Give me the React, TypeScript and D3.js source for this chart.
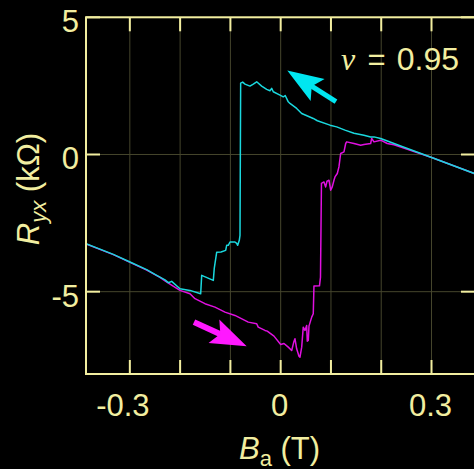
import React from "react";
import * as d3 from "d3";

// ---- data ----
const B_TICKS = [-0.3, -0.2, -0.1, 0, 0.1, 0.2, 0.3];
const B_LABELS = ["-0.3", "0", "0.3"];
const R_TICKS = [5, 0, -5];
const R_LABELS = ["5", "0", "-5"];
const NU_LABEL = "0.95";

// cyan: sweep down (B decreasing); listed by increasing B
const cyanB = [-0.3872, -0.3329, -0.2997, -0.2665, -0.2466, -0.2301, -0.2235, -0.2168, -0.2003, -0.1804, -0.1591, -0.1571, -0.134, -0.1321, -0.1273, -0.1187, -0.1094, -0.1074, -0.1042, -0.1008, -0.0909, -0.0875, -0.0855, -0.0823, -0.0809, -0.0796, -0.0756, -0.071, -0.0611, -0.0545, -0.0477, -0.0378, -0.0278, -0.0213, -0.0179, -0.0147, -0.0014, 0.0052, 0.009, 0.0151, 0.0185, 0.0318, 0.0418, 0.0648, 0.073, 0.0981, 0.1114, 0.1279, 0.1458, 0.1656, 0.179, 0.1856, 0.1989, 0.2387, 0.3003, 0.3864];
const cyanR = [-3.248, -3.639, -3.92, -4.197, -4.405, -4.569, -4.672, -4.624, -4.891, -4.953, -5.073, -4.405, -4.588, -4.15, -3.566, -3.555, -3.493, -3.31, -3.31, -3.19, -3.19, -3.237, -3.31, -3.128, -2.945, 2.602, 2.639, 2.566, 2.493, 2.566, 2.65, 2.493, 2.372, 2.321, 2.409, 2.285, 2.164, 2.102, 2.15, 1.92, 1.861, 1.679, 1.496, 1.314, 1.23, 1.069, 1.007, 0.887, 0.777, 0.7, 0.64, 0.642, 0.584, 0.31, -0.109, -0.701];

// magenta: sweep up (B increasing)
const magB = [-0.3872, -0.3329, -0.2997, -0.2665, -0.2401, -0.2301, -0.2162, -0.2003, -0.1804, -0.1704, -0.1506, -0.1307, -0.1108, -0.0909, -0.0644, -0.0477, -0.0446, -0.0312, -0.0267, -0.0133, 0.0, 0.0066, 0.0151, 0.0219, 0.0265, 0.0284, 0.0318, 0.0364, 0.0384, 0.0418, 0.0449, 0.0483, 0.0517, 0.0529, 0.0549, 0.0563, 0.0617, 0.0648, 0.0662, 0.0772, 0.0792, 0.0811, 0.0827, 0.0861, 0.0895, 0.0921, 0.0961, 0.0994, 0.1026, 0.106, 0.108, 0.1126, 0.1159, 0.1193, 0.1259, 0.1293, 0.1313, 0.1458, 0.1591, 0.1657, 0.179, 0.181, 0.1856, 0.1989, 0.212, 0.2253, 0.2387, 0.3003, 0.3864];
const magR = [-3.259, -3.65, -3.931, -4.215, -4.478, -4.606, -4.77, -4.953, -5.073, -5.255, -5.438, -5.562, -5.745, -5.865, -6.109, -6.168, -6.292, -6.412, -6.438, -6.62, -6.923, -6.887, -7.022, -7.142, -6.803, -6.715, -7.08, -7.35, -7.387, -7.022, -6.292, -6.412, -6.23, -6.803, -6.777, -6.255, -5.927, -5.803, -4.796, -4.788, -4.467, -1.047, -1.036, -1.0, -1.182, -0.974, -0.938, -1.303, -1.182, -0.938, -0.818, -0.693, -0.453, 0.036, 0.095, 0.401, 0.46, 0.401, 0.339, 0.365, 0.401, 0.584, 0.46, 0.522, 0.401, 0.358, 0.274, -0.109, -0.701];

// arrows (data units): [tailB, tailR, tipB, tipR]
const cyanArrow = [0.110, 1.927, 0.0131, 3.058];
const magArrow = [-0.1724, -6.109, -0.0676, -6.985];

// ---- style ----
const W = 474;
const H = 469;
const YEL = "#f2eea0";
const GRID = "#45452c";
const CYAN = "#1ad8de";
const MAG = "#e010e0";
const CYAN_AR = "#00e6f0";
const MAG_AR = "#ff18ff";
const FONT = "'Liberation Sans', Arial, sans-serif";
const FS = 31;

const L = 86, R = 475, T = 17.3, Bt = 374;

function arrowPath(x0: number, y0: number, x1: number, y1: number, headLen: number, halfW: number, notch: number) {
  const dx = x1 - x0, dy = y1 - y0;
  const len = Math.hypot(dx, dy);
  const ux = dx / len, uy = dy / len;
  const nx = -uy, ny = ux;
  const bx = x1 - ux * headLen, by = y1 - uy * headLen;
  const c1 = [bx + nx * halfW, by + ny * halfW];
  const c2 = [bx - nx * halfW, by - ny * halfW];
  const nt = [x1 - ux * notch, y1 - uy * notch];
  return `M${x1},${y1}L${c1[0]},${c1[1]}L${nt[0]},${nt[1]}L${c2[0]},${c2[1]}Z`;
}

export default function App() {
  const x = d3.scaleLinear().domain([-0.3872, 0.3865]).range([L, R]);
  const y = d3.scaleLinear().domain([-8, 5]).range([Bt, T]);

  const line = d3
    .line<[number, number]>()
    .x((d) => x(d[0]))
    .y((d) => y(d[1]));

  const cyanPts: [number, number][] = cyanB.map((b, i) => [b, cyanR[i]]);
  const magPts: [number, number][] = magB.map((b, i) => [b, magR[i]]);

  const arrow = (a: number[], color: string, shaftW: number) => {
    const x0 = x(a[0]), y0 = y(a[1]), x1 = x(a[2]), y1 = y(a[3]);
    const len = Math.hypot(x1 - x0, y1 - y0);
    const ux = (x1 - x0) / len, uy = (y1 - y0) / len;
    const notch = 29;
    return (
      <g>
        <line x1={x0} y1={y0} x2={x1 - ux * (notch - 2)} y2={y1 - uy * (notch - 2)} stroke={color} strokeWidth={shaftW} />
        <path d={arrowPath(x0, y0, x1, y1, 36, 13, notch)} fill={color} />
      </g>
    );
  };

  return (
    <svg width={W} height={H} style={{ position: "absolute", left: 0, top: 0, display: "block", background: "#000" }}>
      <rect x={0} y={0} width={W} height={H} fill="#000" />
      <defs>
        <clipPath id="plot">
          <rect x={L} y={T} width={R - L} height={Bt - T} />
        </clipPath>
      </defs>
      {/* grid */}
      {B_TICKS.map((b) => (
        <line key={"gx" + b} x1={x(b)} x2={x(b)} y1={T} y2={Bt} stroke={GRID} strokeWidth={1} />
      ))}
      {R_TICKS.map((r) => (
        <line key={"gy" + r} x1={L} x2={R} y1={y(r)} y2={y(r)} stroke={GRID} strokeWidth={1} />
      ))}
      {/* data */}
      <g clipPath="url(#plot)">
        <path d={line(magPts) || ""} fill="none" stroke={MAG} strokeWidth={1.5} strokeLinejoin="round" />
        <path d={line(cyanPts) || ""} fill="none" stroke={CYAN} strokeWidth={1.5} strokeLinejoin="round" />
      </g>
      {/* arrows */}
      {arrow(cyanArrow, CYAN_AR, 5)}
      {arrow(magArrow, MAG_AR, 6)}
      {/* frame */}
      <rect x={L} y={T} width={R - L} height={Bt - T} fill="none" stroke={YEL} strokeWidth={2} />
      {/* ticks */}
      {B_TICKS.map((b) => (
        <g key={"tx" + b}>
          <line x1={x(b)} x2={x(b)} y1={Bt} y2={Bt - 14} stroke={YEL} strokeWidth={2} />
          <line x1={x(b)} x2={x(b)} y1={T} y2={T + 14} stroke={YEL} strokeWidth={2} />
        </g>
      ))}
      {R_TICKS.map((r) => (
        <g key={"ty" + r}>
          <line x1={L} x2={L + 14} y1={y(r)} y2={y(r)} stroke={YEL} strokeWidth={2} />
          <line x1={R} x2={R - 14} y1={y(r)} y2={y(r)} stroke={YEL} strokeWidth={2} />
        </g>
      ))}
      {/* tick labels */}
      {R_TICKS.map((r, i) => (
        <text key={"ly" + r} x={79} y={y(r) + 15} textAnchor="end" fill={YEL} fontFamily={FONT} fontSize={FS}>
          {R_LABELS[i]}
        </text>
      ))}
      {B_LABELS.map((s) => {
        const v = parseFloat(s);
        return (
          <text key={"lx" + s} x={x(v) + (v < 0 ? -7 : -1)} y={415.5} textAnchor="middle" fill={YEL} fontFamily={FONT} fontSize={FS}>
            {s}
          </text>
        );
      })}
      {/* axis titles */}
      <text x={239} y={459} fill={YEL} fontFamily={FONT} fontSize={FS}>
        <tspan fontStyle="italic">B</tspan>
        <tspan fontSize={22} dy={7}>a</tspan>
        <tspan dy={-7}> (T)</tspan>
      </text>
      <text transform="translate(39,189) rotate(-90)" textAnchor="middle" fill={YEL} fontFamily={FONT} fontSize={FS}>
        <tspan fontStyle="italic">R</tspan>
        <tspan fontStyle="italic" fontSize={22} dy={7}>yx</tspan>
        <tspan dy={-7}> (kΩ)</tspan>
      </text>
      {/* nu label */}
      <text x={341} y={69.5} fill={YEL} fontFamily="'Liberation Serif', 'DejaVu Serif', serif" fontStyle="italic" fontSize={32}>
        ν
      </text>
      <text x={367.5} y={69.5} fill={YEL} fontFamily={FONT} fontSize={FS}>
        =
      </text>
      <text x={459} y={69.5} textAnchor="end" fill={YEL} fontFamily={FONT} fontSize={32}>
        {NU_LABEL}
      </text>
    </svg>
  );
}
